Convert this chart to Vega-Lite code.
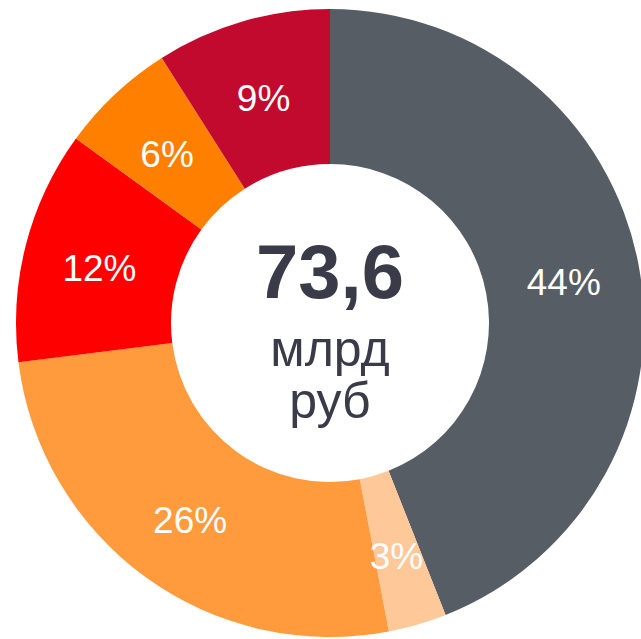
{
  "$schema": "https://vega.github.io/schema/vega-lite/v6.json",
  "width": 620,
  "height": 632,
  "autosize": {"type": "none"},
  "padding": {"left": 20, "top": 7, "right": 1, "bottom": 0},
  "background": "white",
  "view": {"stroke": null},
  "data": {
    "values": [
      {"idx": 1, "cat": "A", "value": 44, "label": "44%"},
      {"idx": 2, "cat": "B", "value": 3, "label": "3%"},
      {"idx": 3, "cat": "C", "value": 26, "label": "26%"},
      {"idx": 4, "cat": "D", "value": 12, "label": "12%"},
      {"idx": 5, "cat": "E", "value": 6, "label": "6%"},
      {"idx": 6, "cat": "F", "value": 9, "label": "9%"}
    ]
  },
  "encoding": {
    "theta": {"field": "value", "type": "quantitative", "stack": true},
    "order": {"field": "idx", "type": "quantitative"},
    "color": {
      "field": "cat",
      "type": "nominal",
      "legend": null,
      "scale": {
        "domain": ["A", "B", "C", "D", "E", "F"],
        "range": ["#565D64", "#FFC899", "#FF9A3D", "#FF0000", "#FF7F00", "#C20A2F"]
      }
    }
  },
  "layer": [
    {
      "mark": {"type": "arc", "radius": 314, "radius2": 159, "stroke": null}
    },
    {
      "mark": {
        "type": "text",
        "radius": 238,
        "font": "Liberation Sans",
        "fontSize": 37,
        "fill": "white",
        "baseline": "middle",
        "align": "center",
        "dy": 6
      },
      "encoding": {
        "text": {"field": "label"},
        "color": {"value": "white"}
      }
    },
    {
      "data": {"values": [{"t": "73,6"}]},
      "mark": {
        "type": "text",
        "font": "Liberation Sans",
        "fontWeight": "bold",
        "fontSize": 76,
        "color": "#3A3A48",
        "baseline": "alphabetic",
        "align": "center",
        "dy": -25
      },
      "encoding": {"text": {"field": "t"}, "theta": null, "order": null, "color": null}
    },
    {
      "data": {"values": [{"t": "млрд"}]},
      "mark": {
        "type": "text",
        "font": "Liberation Sans",
        "fontSize": 50,
        "color": "#3A3A48",
        "baseline": "alphabetic",
        "align": "center",
        "dy": 43
      },
      "encoding": {"text": {"field": "t"}, "theta": null, "order": null, "color": null}
    },
    {
      "data": {"values": [{"t": "руб"}]},
      "mark": {
        "type": "text",
        "font": "Liberation Sans",
        "fontSize": 50,
        "color": "#3A3A48",
        "baseline": "alphabetic",
        "align": "center",
        "dy": 95
      },
      "encoding": {"text": {"field": "t"}, "theta": null, "order": null, "color": null}
    }
  ]
}
